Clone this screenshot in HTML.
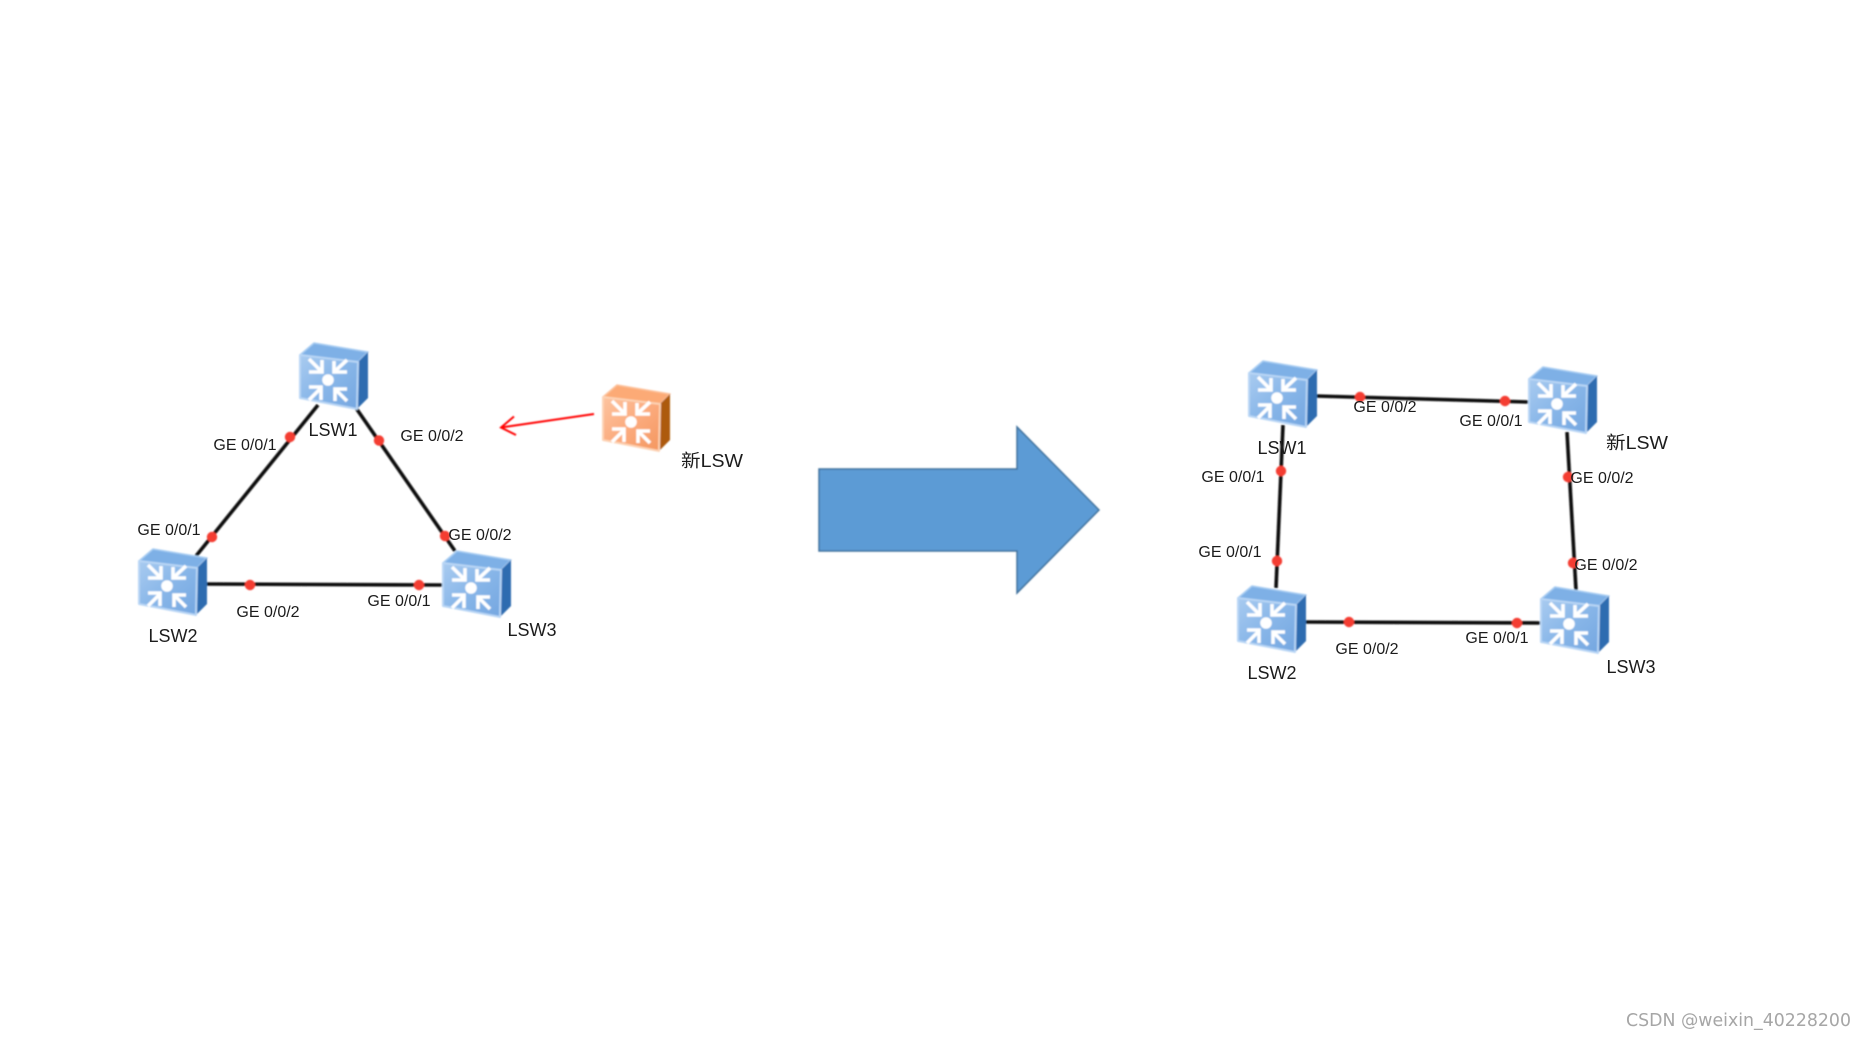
<!DOCTYPE html>
<html><head><meta charset="utf-8"><style>
html,body{margin:0;padding:0;background:#fff;width:1867px;height:1040px;overflow:hidden}
svg{display:block}
text{font-family:"Liberation Sans","Noto Sans CJK SC",sans-serif;fill:#1c1c1c;text-anchor:middle}
.p{font-size:16px}.n{font-size:18px}
</style></head><body>
<svg width="1867" height="1040" viewBox="0 0 1867 1040" xmlns="http://www.w3.org/2000/svg">
<defs>
<filter id="b" x="-10%" y="-10%" width="120%" height="120%"><feGaussianBlur stdDeviation="0.7"/></filter>
<filter id="t" x="-10%" y="-10%" width="120%" height="120%"><feGaussianBlur stdDeviation="0.35"/></filter>
<linearGradient id="fb" x1="0" y1="0" x2="1" y2="1"><stop offset="0" stop-color="#a9cbf0"/><stop offset=".5" stop-color="#88b6e8"/><stop offset="1" stop-color="#74a6e0"/></linearGradient>
<linearGradient id="fo" x1="0" y1="0" x2="1" y2="1"><stop offset="0" stop-color="#fdc4a0"/><stop offset=".5" stop-color="#fbab7e"/><stop offset="1" stop-color="#f4975f"/></linearGradient>
<g id="ic" fill="none" stroke="#fff" stroke-width="3.6">
<path d="M-19-21L-6-8M-6-20V-8H-19M19-20L6-8M6-19V-8H19M-19 20L-7 8M-19 7H-7V20M19 21L7 9M19 9H7V21"/>
<circle r="5.8" fill="#fff" stroke="none"/>
</g>
<g id="sb">
<path d="M0 12L14 0L68 9L58 19Z" fill="#7eb0e6" stroke="#a9cdf2" stroke-width="1.5" stroke-linejoin="round"/>
<path d="M58 19L68 9V55L57 66Z" fill="#2d6cb0"/>
<path d="M0 12L58 19L57 66L0 55Z" fill="url(#fb)" stroke="#b9d6f5" stroke-width="2" stroke-linejoin="round"/>
<use href="#ic" x="28" y="37"/>
</g>
<g id="so">
<path d="M0 12L14 0L67 9L57 19Z" fill="#fcaa76" stroke="#fdc29c" stroke-width="1.5" stroke-linejoin="round"/>
<path d="M57 19L67 9V55L56 66Z" fill="#ad5a10"/>
<path d="M0 12L57 19L56 66L0 55Z" fill="url(#fo)" stroke="#fdd3b5" stroke-width="2" stroke-linejoin="round"/>
<use href="#ic" x="28" y="37"/>
</g>
</defs>
<g filter="url(#b)">
<g stroke="#111" stroke-width="3.6" fill="none">
<path d="M318 405L196 556M356 408L455 551M206 584L442 585"/>
<path d="M1316 396L1528 402M1283 425L1276 588M1567 432L1576 590M1305 622L1540 623"/>
</g>
<g fill="#f43c32">
<circle cx="290" cy="437" r="5.2"/><circle cx="379" cy="440.5" r="5.2"/><circle cx="212" cy="537" r="5.2"/><circle cx="445" cy="536" r="5.2"/><circle cx="250" cy="585" r="5.2"/><circle cx="419" cy="585" r="5.2"/>
<circle cx="1360" cy="397" r="5.2"/><circle cx="1505" cy="401" r="5.2"/><circle cx="1281" cy="471" r="5.2"/><circle cx="1277" cy="561" r="5.2"/><circle cx="1568" cy="477" r="5.2"/><circle cx="1573" cy="563" r="5.2"/><circle cx="1349" cy="622" r="5.2"/><circle cx="1517" cy="623" r="5.2"/>
</g>
<use href="#sb" x="300" y="343"/>
<use href="#sb" x="139" y="549"/>
<use href="#sb" x="443" y="551"/>
<use href="#so" x="603" y="385"/>
<use href="#sb" x="1249" y="361"/>
<use href="#sb" x="1529" y="367"/>
<use href="#sb" x="1238" y="586"/>
<use href="#sb" x="1541" y="587"/>
<path d="M594 414L501 427.5M514 416.5L501 427.5L516 435" fill="none" stroke="#f00" stroke-width="2"/>
<path d="M819 469H1017V427L1099 510L1017 593V551H819Z" fill="#5b9bd5" stroke="#41719c" stroke-width="1.5"/>
</g>
<g filter="url(#t)">
<text class="p" x="245" y="450">GE 0/0/1</text>
<text class="p" x="432" y="441">GE 0/0/2</text>
<text class="p" x="169" y="535">GE 0/0/1</text>
<text class="p" x="480" y="540">GE 0/0/2</text>
<text class="p" x="268" y="617">GE 0/0/2</text>
<text class="p" x="399" y="606">GE 0/0/1</text>
<text class="p" x="1385" y="412">GE 0/0/2</text>
<text class="p" x="1491" y="426">GE 0/0/1</text>
<text class="p" x="1233" y="482">GE 0/0/1</text>
<text class="p" x="1230" y="557">GE 0/0/1</text>
<text class="p" x="1602" y="483">GE 0/0/2</text>
<text class="p" x="1606" y="570">GE 0/0/2</text>
<text class="p" x="1367" y="654">GE 0/0/2</text>
<text class="p" x="1497" y="643">GE 0/0/1</text>
<text class="n" x="333" y="436">LSW1</text>
<text class="n" x="712" y="467" textLength="62" lengthAdjust="spacingAndGlyphs">新LSW</text>
<text class="n" x="173" y="642">LSW2</text>
<text class="n" x="532" y="636">LSW3</text>
<text class="n" x="1282" y="454">LSW1</text>
<text class="n" x="1637" y="449" textLength="62" lengthAdjust="spacingAndGlyphs">新LSW</text>
<text class="n" x="1272" y="679">LSW2</text>
<text class="n" x="1631" y="673">LSW3</text>
</g>
<text x="1738.5" y="1026" style="font-family:'DejaVu Sans',sans-serif;font-size:18px;fill:#a6a6a6" textLength="225" lengthAdjust="spacingAndGlyphs">CSDN @weixin_40228200</text>
</svg>
</body></html>
